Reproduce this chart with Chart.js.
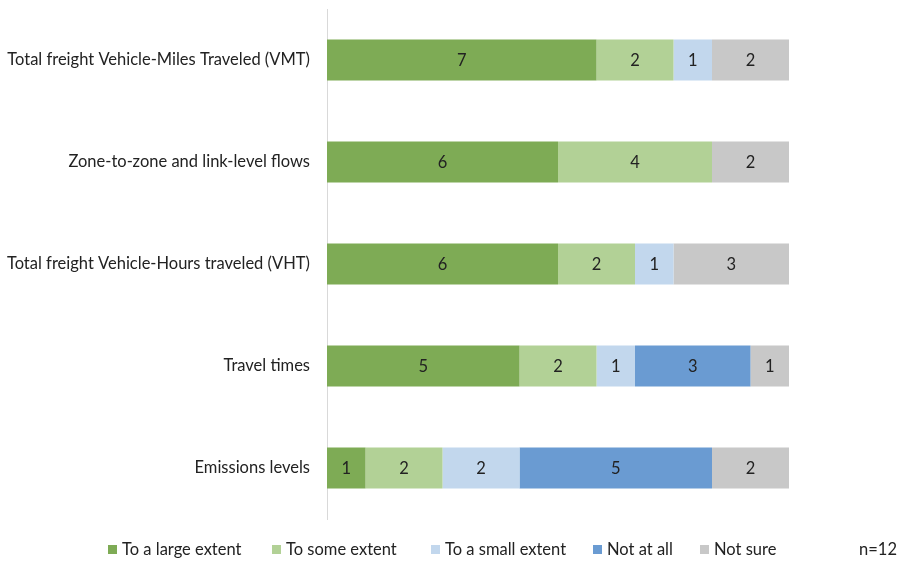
<!DOCTYPE html>
<html>
<head>
<meta charset="utf-8">
<script src="https://cdn.jsdelivr.net/npm/chart.js@4"></script>
<style>
  html, body { margin: 0; padding: 0; background: #fff; }
  #wrap { width: 899px; height: 561px; }
</style>
</head>
<body>
<div id="wrap"><canvas id="extentChart" width="899" height="561"></canvas></div>
<script>
// Survey responses per measure (n=12)
const categories = [
  'Total freight Vehicle-Miles Traveled (VMT)',
  'Zone-to-zone and link-level flows',
  'Total freight Vehicle-Hours traveled (VHT)',
  'Travel times',
  'Emissions levels',
];
const seriesNames = ['To a large extent', 'To some extent', 'To a small extent', 'Not at all', 'Not sure'];
const largeExtent = [7, 6, 6, 5, 1];
const someExtent = [2, 4, 2, 2, 2];
const smallExtent = [1, 0, 1, 1, 2];
const notAtAll = [0, 0, 0, 3, 5];
const notSure = [2, 2, 3, 1, 2];
const colors = ['#7eab55', '#b2d196', '#c2d7ed', '#6a9bd2', '#c8c8c8'];
const sampleNote = 'n=12';

const FONT = 'Lato, "Open Sans", sans-serif';
const FONT_SIZE = 16.5;

// value labels in the middle of each segment
const segmentLabels = {
  id: 'segmentLabels',
  afterDatasetsDraw(chart) {
    const ctx = chart.ctx;
    ctx.save();
    ctx.font = FONT_SIZE + 'px ' + FONT;
    ctx.fillStyle = '#222';
    ctx.textAlign = 'center';
    ctx.textBaseline = 'middle';
    chart.data.datasets.forEach((ds, i) => {
      chart.getDatasetMeta(i).data.forEach((bar, j) => {
        const v = ds.data[j];
        if (!v) return;
        ctx.fillText(String(v), (bar.x + bar.base) / 2, bar.y + 1);
      });
    });
    ctx.restore();
  }
};

// legend row along the bottom plus the sample size note
const legendX = [108, 272, 431, 593, 700];
const bottomLegend = {
  id: 'bottomLegend',
  afterDraw(chart) {
    const ctx = chart.ctx;
    const y = 550;
    ctx.save();
    ctx.font = FONT_SIZE + 'px ' + FONT;
    ctx.textBaseline = 'middle';
    ctx.textAlign = 'left';
    chart.data.datasets.forEach((ds, i) => {
      const x = legendX[i];
      ctx.fillStyle = ds.backgroundColor;
      ctx.fillRect(x, y - 5, 9, 9);
      ctx.fillStyle = '#222';
      ctx.fillText(ds.label, x + 14, y);
    });
    ctx.textAlign = 'right';
    ctx.fillText(sampleNote, 897, y);
    ctx.restore();
  }
};

const seriesData = [largeExtent, someExtent, smallExtent, notAtAll, notSure];

new Chart(document.getElementById('extentChart').getContext('2d'), {
  type: 'bar',
  data: {
    labels: categories,
    datasets: seriesNames.map((name, i) => ({
      label: name,
      data: seriesData[i],
      backgroundColor: colors[i],
      borderWidth: 0,
      categoryPercentage: 1,
      barPercentage: 0.4,
    })),
  },
  options: {
    indexAxis: 'y',
    responsive: false,
    animation: false,
    layout: { padding: { top: 9, right: 110, bottom: 42, left: 0 } },
    plugins: {
      legend: { display: false },
      tooltip: { enabled: false },
    },
    scales: {
      x: {
        stacked: true,
        min: 0,
        max: 12,
        display: false,
      },
      y: {
        stacked: true,
        afterFit(scale) {
          scale.width = 327;
          scale.paddingTop = 0;
          scale.paddingBottom = 0;
        },
        grid: { display: true, color: 'transparent', drawTicks: false },
        border: { display: true, color: '#d9d9d9', width: 1 },
        ticks: {
          padding: 17,
          color: '#222',
          font: { family: FONT, size: FONT_SIZE },
        },
      },
    },
  },
  plugins: [segmentLabels, bottomLegend],
});
</script>
</body>
</html>
